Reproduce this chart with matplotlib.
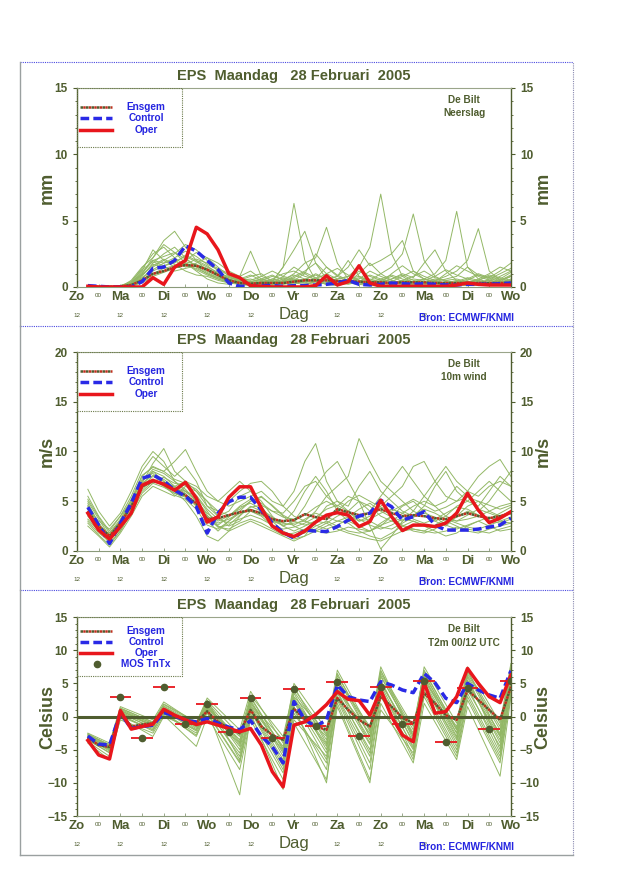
import matplotlib
matplotlib.use('Agg')
import matplotlib.pyplot as plt
import numpy as np
from matplotlib.lines import Line2D
from matplotlib.patches import Rectangle
import matplotlib.transforms as mtransforms

plt.rcParams['font.family'] = ['Liberation Sans', 'DejaVu Sans']

OLIVE = '#4f5d2f'
GREEN = '#93b866'
RED = '#e8161c'
BLUE = '#2a2ae6'
TXT_BLUE = '#2424e0'

title = 'EPS  Maandag   28 Februari  2005'
day_labels = ['Zo', 'Ma', 'Di', 'Wo', 'Do', 'Vr', 'Za', 'Zo', 'Ma', 'Di', 'Wo']

# 6-hourly output, days after Sunday 12 UTC
steps = np.arange(1, 41) * 0.25
# ensemble members for T2m only given at the 06 and 12 UTC extremes
temp_member_steps = [0.25] + [d + f for d in range(10) for f in (0.75, 1.0)]

# ---- Neerslag (mm) ----
rain_oper = [0.05, 0, 0, 0, 0, 0, 0.7, 0.2, 1.5, 2.0, 4.5, 4.0, 2.8, 1.0, 0.7, 0.1,
             0.05, 0, 0, 0, 0, 0.1, 0.85, 0.15, 0.4, 1.6, 0.3, 0.05, 0.05, 0.05, 0.05, 0.05,
             0.05, 0.05, 0.15, 0.3, 0.2, 0.15, 0.15, 0.15]
rain_control = [0.1, 0.05, 0, 0, 0, 0.4, 1.4, 1.5, 2.0, 3.1, 2.7, 2.0, 1.3, 0.3, 0.05, 0.05,
                0.1, 0.1, 0.05, 0.1, 0.1, 0.15, 0.2, 0.3, 0.5, 0.2, 0.15, 0.2, 0.3, 0.25, 0.2, 0.25,
                0.2, 0.15, 0.15, 0.2, 0.2, 0.2, 0.25, 0.3]
rain_ensgem = [0.05, 0.02, 0.02, 0.05, 0.15, 0.5, 1.0, 1.2, 1.5, 1.65, 1.6, 1.3, 0.9, 0.5, 0.3, 0.25,
               0.3, 0.3, 0.3, 0.4, 0.5, 0.5, 0.5, 0.45, 0.45, 0.4, 0.35, 0.35, 0.3, 0.35, 0.35, 0.35,
               0.3, 0.3, 0.3, 0.3, 0.3, 0.3, 0.3, 0.3]
rain_members = [
    [0, 0, 0, 0.1, 0.3, 1.2, 2.8, 2.0, 1.5, 1.8, 1.2, 0.6, 0.3, 0.2, 0.5, 0.8, 1.0, 0.4, 1.5, 6.3,
     2.0, 0.5, 0.2, 0.1, 0.3, 0.2, 0.1, 0.1, 0.2, 0.5, 0.3, 0.1, 0.1, 0.2, 0.4, 0.2, 0.1, 0.3, 0.5, 0.8],
    [0, 0, 0, 0, 0.2, 0.8, 1.8, 2.5, 3.0, 2.2, 1.5, 1.0, 0.6, 0.4, 0.2, 0.1, 0.3, 0.6, 0.4, 0.8,
     1.2, 1.8, 1.0, 0.6, 0.8, 1.5, 3.0, 7.0, 2.5, 0.8, 0.3, 0.2, 0.1, 0.3, 0.2, 0.1, 0.2, 0.4, 0.8, 1.2],
    [0, 0, 0, 0, 0.5, 1.5, 2.2, 3.5, 4.2, 3.0, 2.0, 1.2, 0.8, 0.5, 0.3, 0.2, 0.1, 0.3, 0.8, 1.5,
     1.0, 0.5, 0.2, 0.4, 0.6, 0.8, 0.5, 1.0, 1.5, 2.5, 5.5, 2.0, 0.8, 0.4, 0.2, 0.1, 0.2, 0.3, 0.2, 0.4],
    [0, 0, 0, 0, 0.1, 0.6, 1.5, 2.0, 2.5, 3.2, 2.8, 2.0, 1.2, 0.6, 0.3, 0.2, 0.4, 0.6, 1.0, 1.2,
     0.8, 0.6, 1.5, 0.9, 0.5, 0.3, 0.6, 0.4, 0.3, 0.2, 0.4, 0.6, 1.0, 2.0, 5.7, 1.5, 0.6, 0.3, 0.2, 0.3],
    [0, 0, 0, 0, 0.3, 1.0, 2.0, 1.8, 2.0, 1.5, 1.8, 2.2, 1.5, 0.8, 0.4, 0.2, 0.2, 0.4, 0.3, 0.5,
     1.0, 2.5, 1.5, 0.8, 0.4, 1.0, 1.8, 1.0, 0.5, 0.3, 0.2, 0.3, 0.5, 0.8, 1.2, 2.0, 4.4, 1.2, 0.5, 0.8],
    [0, 0, 0, 0, 0.2, 0.7, 1.2, 1.6, 1.8, 2.4, 2.0, 1.6, 1.0, 0.8, 0.6, 0.4, 0.3, 0.2, 0.5, 1.0,
     1.8, 2.2, 4.5, 1.8, 0.6, 0.3, 0.2, 0.5, 0.8, 0.4, 0.3, 0.6, 0.4, 0.3, 0.5, 0.3, 0.2, 0.6, 1.0, 1.4],
    [0, 0, 0, 0.1, 0.4, 1.4, 2.5, 3.0, 2.2, 1.6, 1.4, 1.0, 0.7, 0.5, 0.8, 1.2, 0.6, 0.4, 1.5, 2.8,
     4.2, 1.8, 0.6, 0.3, 0.2, 0.4, 0.9, 0.6, 0.4, 0.8, 1.2, 0.8, 0.5, 0.3, 0.2, 0.5, 0.9, 0.6, 0.4, 0.5],
    [0, 0, 0, 0, 0.1, 0.5, 1.0, 1.4, 1.6, 2.0, 2.6, 2.2, 1.8, 1.2, 0.8, 2.7, 0.8, 0.5, 0.3, 0.2,
     0.5, 1.0, 0.6, 0.8, 1.5, 2.8, 1.6, 2.0, 2.5, 3.5, 1.2, 0.6, 0.4, 1.0, 1.6, 1.2, 0.8, 0.5, 0.3, 0.6],
    [0, 0, 0, 0, 0.2, 0.9, 1.7, 1.5, 1.2, 1.4, 1.6, 1.3, 0.9, 0.6, 0.4, 0.3, 0.5, 0.8, 0.6, 0.4,
     0.3, 0.6, 1.0, 1.4, 0.9, 0.5, 0.4, 0.3, 0.6, 1.0, 0.7, 1.8, 2.8, 1.2, 0.5, 0.3, 0.5, 0.8, 0.6, 0.4],
    [0, 0, 0, 0, 0.0, 0.4, 0.9, 1.2, 1.5, 1.9, 1.7, 1.4, 1.0, 0.7, 0.5, 0.3, 0.2, 0.1, 0.3, 0.6,
     0.4, 0.3, 0.5, 0.8, 2.0, 0.8, 0.4, 0.2, 0.3, 0.2, 0.2, 0.3, 0.4, 0.6, 0.8, 1.5, 0.9, 0.7, 1.2, 1.8],
    [0, 0, 0, 0, 0.3, 1.1, 2.0, 2.3, 2.6, 2.1, 1.6, 1.1, 0.7, 0.4, 0.3, 0.4, 0.6, 0.9, 0.5, 0.3,
     0.2, 0.4, 0.7, 0.5, 0.3, 0.2, 0.4, 0.6, 0.9, 0.6, 0.4, 0.3, 0.2, 0.4, 0.3, 0.6, 1.0, 0.7, 0.5, 0.9],
    [0, 0, 0, 0, 0.1, 0.7, 1.3, 1.8, 2.2, 2.7, 2.3, 1.7, 1.3, 0.9, 0.5, 0.6, 0.4, 0.2, 0.4, 0.7,
     1.1, 0.7, 0.4, 0.3, 0.6, 1.2, 0.8, 0.5, 0.3, 0.5, 0.8, 1.2, 0.7, 0.5, 0.6, 0.4, 0.3, 0.2, 0.6, 1.1],
    [0, 0, 0, 0, 0.2, 1.0, 2.2, 3.2, 2.6, 1.8, 1.3, 0.9, 0.6, 0.3, 0.2, 0.2, 0.3, 0.5, 0.7, 0.5,
     0.3, 0.2, 0.3, 0.5, 0.4, 0.6, 1.2, 0.8, 0.5, 0.3, 0.2, 0.4, 0.6, 0.5, 0.3, 0.4, 0.5, 0.9, 0.7, 0.5],
    [0, 0, 0, 0, 0.4, 1.3, 1.9, 1.6, 1.9, 2.3, 1.9, 1.5, 1.1, 0.7, 0.5, 0.4, 0.6, 0.4, 0.2, 0.3,
     0.6, 0.9, 0.6, 0.4, 0.3, 0.4, 0.5, 0.3, 0.2, 0.4, 0.6, 0.5, 0.8, 1.3, 0.9, 0.6, 0.4, 0.5, 0.3, 0.5],
    [0, 0, 0, 0, 0.1, 0.3, 0.8, 1.1, 1.4, 1.7, 2.1, 1.8, 1.4, 1.0, 0.6, 0.5, 0.8, 1.2, 0.8, 0.6,
     0.5, 0.4, 0.3, 0.6, 0.8, 0.5, 0.3, 0.4, 0.6, 0.9, 0.5, 0.3, 0.3, 0.2, 0.4, 0.7, 0.5, 0.3, 0.4, 0.8],
    [0, 0, 0, 0, 0.3, 0.9, 1.6, 2.1, 1.7, 1.2, 0.9, 0.8, 0.5, 0.3, 0.6, 0.9, 0.5, 0.3, 0.6, 0.9,
     0.6, 0.4, 0.2, 0.2, 0.4, 0.7, 0.4, 0.3, 1.0, 1.6, 1.0, 0.6, 0.4, 0.3, 0.2, 0.3, 0.6, 1.0, 1.5, 1.2],
]

# ---- 10m wind (m/s) ----
wind_oper = [3.8, 2.1, 1.2, 2.45, 3.8, 6.6, 7.1, 6.7, 6.1, 6.9, 5.3, 2.9, 3.45, 5.4, 6.45, 6.45,
             4.3, 2.5, 1.8, 1.45, 2.0, 2.9, 3.6, 3.85, 3.6, 2.45, 2.95, 5.1, 3.45, 2.05, 2.6, 2.6,
             2.45, 2.8, 3.8, 5.8, 4.1, 2.85, 3.3, 3.95]
wind_control = [4.4, 2.6, 0.75, 2.8, 4.8, 7.3, 7.65, 7.05, 6.1, 5.5, 4.45, 1.8, 3.8, 4.95, 5.4, 5.4,
                4.1, 2.8, 1.85, 1.3, 2.1, 2.0, 1.95, 2.45, 3.1, 3.5, 3.8, 5.1, 4.45, 3.1, 3.45, 3.95,
                2.6, 2.1, 2.1, 2.1, 2.2, 2.4, 2.6, 3.3]
wind_ensgem = [4.0, 2.5, 1.5, 2.8, 4.5, 6.5, 7.0, 6.8, 6.2, 5.6, 4.8, 3.2, 3.3, 3.6, 3.9, 4.1,
               3.8, 3.2, 3.0, 3.1, 3.7, 3.4, 3.2, 4.2, 3.9, 3.6, 3.8, 4.2, 3.8, 3.5, 3.6, 3.5,
               3.3, 3.2, 3.5, 3.8, 3.5, 3.3, 3.5, 3.8]
wind_members = [
    [5.5, 3.5, 2.0, 3.5, 5.5, 8.0, 9.5, 8.5, 7.5, 8.5, 7.0, 4.5, 3.5, 4.0, 5.5, 6.0, 5.0, 3.5, 2.5, 3.0,
     4.5, 6.5, 8.0, 9.0, 7.0, 5.0, 4.0, 5.5, 7.0, 8.5, 7.0, 5.5, 4.5, 5.0, 6.5, 5.5, 4.0, 5.0, 6.5, 8.0],
    [3.5, 2.0, 0.8, 2.0, 4.0, 6.5, 7.5, 7.0, 6.0, 5.0, 3.5, 1.5, 1.0, 2.0, 3.5, 4.5, 4.0, 3.0, 2.0, 1.5,
     1.8, 2.5, 3.0, 2.5, 2.0, 1.8, 2.0, 2.8, 3.5, 2.5, 2.0, 1.8, 2.2, 3.0, 2.5, 2.0, 1.8, 2.2, 2.5, 2.8],
    [4.8, 2.8, 1.5, 3.0, 5.0, 7.5, 8.5, 8.0, 9.0, 10.2, 8.0, 6.0, 5.0, 4.5, 5.0, 5.5, 6.0, 5.0, 4.5, 6.0,
     9.0, 10.8, 7.0, 5.0, 4.5, 6.5, 8.0, 6.0, 5.0, 4.0, 3.5, 4.5, 6.5, 8.0, 6.0, 5.0, 4.5, 6.0, 7.5, 6.5],
    [2.5, 1.5, 0.4, 1.8, 3.5, 5.5, 6.5, 6.0, 5.5, 6.5, 6.0, 5.0, 3.5, 2.5, 3.0, 4.0, 3.5, 2.5, 1.8, 1.2,
     1.5, 2.0, 2.5, 3.0, 2.8, 2.0, 1.5, 1.2, 1.8, 2.5, 3.0, 2.5, 2.0, 1.5, 1.8, 2.5, 3.0, 2.5, 2.0, 2.2],
    [4.2, 3.0, 2.2, 3.5, 5.0, 7.0, 8.0, 7.5, 6.5, 7.0, 6.0, 4.5, 4.0, 5.0, 6.0, 6.8, 7.0, 6.0, 4.5, 3.5,
     3.0, 4.0, 5.5, 6.5, 7.5, 11.3, 9.0, 7.0, 6.0, 5.0, 4.0, 3.5, 3.0, 3.5, 4.5, 5.0, 6.0, 7.0, 6.0, 5.0],
    [6.2, 4.0, 2.5, 3.8, 6.0, 8.5, 10.0, 9.0, 7.0, 6.0, 5.5, 4.0, 2.5, 2.0, 2.5, 3.0, 2.5, 2.0, 1.5, 1.0,
     1.5, 3.0, 4.5, 5.0, 4.0, 3.0, 3.5, 4.5, 5.5, 6.5, 8.5, 9.0, 7.0, 5.5, 5.0, 6.0, 7.5, 8.5, 9.2, 7.5],
    [3.0, 1.8, 1.0, 2.5, 4.5, 6.0, 7.0, 6.8, 6.5, 6.0, 5.0, 3.0, 2.0, 3.0, 4.0, 5.0, 5.5, 4.5, 3.5, 2.5,
     2.0, 2.2, 2.8, 3.5, 4.0, 5.0, 4.5, 3.5, 3.0, 3.8, 4.5, 5.0, 4.5, 3.5, 3.0, 3.2, 3.5, 4.0, 4.5, 4.8],
    [4.5, 2.5, 1.2, 2.2, 4.2, 6.8, 8.8, 10.3, 8.0, 7.0, 6.5, 5.5, 5.0, 6.0, 7.0, 6.0, 4.5, 3.0, 2.8, 4.0,
     6.0, 7.5, 6.0, 4.0, 3.0, 2.5, 2.0, 2.5, 3.5, 4.5, 5.0, 4.0, 3.0, 2.5, 3.5, 4.5, 5.0, 4.0, 3.5, 4.0],
    [3.8, 2.2, 1.8, 3.0, 4.8, 6.2, 7.2, 6.5, 5.8, 5.5, 4.5, 3.5, 2.8, 3.2, 3.8, 4.2, 3.8, 3.2, 2.5, 2.0,
     2.5, 3.0, 2.8, 2.2, 1.8, 1.5, 1.2, 1.0, 1.5, 2.0, 2.2, 2.0, 1.8, 2.0, 2.4, 2.2, 2.0, 1.8, 2.2, 2.5],
    [5.0, 3.2, 1.5, 2.8, 4.5, 7.0, 8.2, 7.8, 7.0, 6.2, 5.0, 3.8, 3.0, 3.5, 4.5, 5.2, 4.8, 4.0, 3.8, 5.0,
     6.5, 7.0, 5.5, 4.5, 5.5, 5.0, 2.5, 0.2, 1.5, 3.0, 4.0, 5.5, 7.0, 8.5, 7.0, 6.0, 5.5, 6.5, 7.0, 6.5],
    [4.0, 2.4, 1.2, 2.6, 4.4, 6.8, 7.6, 7.2, 6.4, 5.8, 4.6, 3.0, 2.6, 3.4, 4.4, 4.8, 4.2, 3.4, 2.8, 2.6,
     3.2, 3.8, 3.4, 3.0, 3.4, 4.2, 4.8, 4.0, 3.4, 3.0, 3.6, 4.2, 3.8, 3.2, 3.0, 3.6, 4.2, 3.8, 3.4, 4.0],
    [3.2, 2.0, 1.4, 2.8, 4.6, 6.4, 7.0, 7.4, 6.8, 6.6, 5.6, 4.2, 3.2, 2.8, 3.2, 3.6, 3.2, 2.6, 2.2, 2.4,
     2.8, 3.4, 4.2, 4.6, 4.0, 3.2, 2.6, 2.2, 2.6, 3.2, 3.0, 2.6, 2.4, 2.8, 3.4, 4.0, 3.6, 3.0, 2.8, 3.2],
    [4.6, 2.8, 1.0, 2.2, 4.0, 6.6, 8.0, 7.0, 6.2, 6.0, 5.2, 3.6, 2.4, 2.6, 3.6, 4.4, 4.6, 4.0, 3.4, 3.2,
     3.6, 4.4, 5.0, 4.4, 3.6, 3.0, 3.2, 3.8, 4.2, 3.8, 3.2, 2.8, 3.2, 3.8, 4.4, 4.2, 3.6, 3.2, 3.8, 4.4],
    [3.6, 2.6, 1.6, 3.0, 5.0, 7.2, 7.8, 6.6, 5.6, 5.2, 4.2, 2.6, 2.2, 3.0, 3.8, 4.0, 3.6, 3.0, 2.6, 2.8,
     3.0, 2.6, 2.2, 2.6, 3.2, 3.6, 3.0, 2.4, 2.2, 2.8, 3.4, 3.8, 3.4, 2.6, 2.2, 2.6, 3.0, 3.4, 3.0, 2.8],
    [5.2, 3.4, 1.8, 3.2, 5.2, 7.6, 8.4, 8.0, 7.2, 6.8, 6.2, 5.0, 4.0, 3.6, 4.2, 5.0, 5.4, 4.6, 3.6, 3.0,
     2.6, 3.0, 3.6, 4.0, 5.0, 5.6, 5.0, 4.4, 4.0, 4.6, 5.2, 4.6, 4.0, 4.4, 5.0, 5.4, 5.0, 4.6, 4.2, 4.6],
    [2.8, 1.6, 0.6, 2.0, 3.8, 5.8, 6.8, 6.4, 5.8, 5.4, 4.8, 3.4, 2.4, 2.2, 2.8, 3.2, 2.8, 2.2, 1.6, 1.8,
     2.2, 2.0, 1.8, 2.0, 2.4, 2.2, 2.0, 2.6, 3.0, 2.6, 2.2, 2.0, 2.6, 3.2, 2.8, 2.4, 2.2, 2.6, 3.0, 3.4],
]

# ---- T2m (Celsius) ----
temp_oper = [-3.6, -5.8, -6.4, 0.9, -1.9, -1.5, -1.15, 1.1, 0.2, -0.5, -1.2, -0.8, -1.3, -1.8, -2.3, -1.8,
             -4.3, -8.3, -10.6, -1.3, -0.8, 0.3, 1.8, 3.75, 2.6, 2.4, 0.2, 4.0, 0.0, -2.8, -3.8, 5.15,
             0.5, 0.75, 3.0, 7.25, 5.0, 3.0, 2.1, 6.25]
temp_control = [-2.95, -4.15, -4.3, 0.5, -1.8, -1.5, -1.3, 0.6, 0.1, -0.6, -0.8, -0.3, -1.0, -1.6, -2.0, -0.6,
                -2.95, -4.55, -7.0, 2.25, -0.5, -1.5, -0.5, 4.75, 3.0, 2.5, 2.25, 5.25, 4.75, 4.0, 3.6, 6.5,
                5.1, 2.75, 2.1, 5.0, 4.0, 3.25, 2.75, 6.9]
temp_ensgem = [-3.2, -4.3, -4.6, 0.6, -1.5, -1.2, -1.0, 0.8, 0.0, -0.6, -0.9, 0.8, -0.8, -1.8, -2.5, 1.0,
               -1.5, -2.8, -3.5, 1.2, -0.5, -1.5, -2.0, 2.8, 1.0, -0.5, -1.5, 3.0, 1.5, -0.2, -1.0, 3.5,
               2.0, 0.2, -0.5, 4.0, 2.5, 1.0, -0.5, 4.5]
temp_members = [
    [-2.5, -4.0, 1.5, -0.5, 2.2, -1.0, 2.8, -2.0, 3.8, -4.0, 5.0, -2.0, 7.0, -2.0, 7.5, -3.0, 7.5, -1.0, 7.5, -1.0, 8.0],
    [-3.5, -5.5, 0.0, -2.0, 0.5, -2.5, 1.0, -11.8, 0.5, -11.0, -1.0, -9.5, 1.5, -10.0, 2.0, -7.0, 2.0, -6.5, 1.5, -9.0, 3.0],
    [-3.0, -4.5, 0.8, -1.0, 1.5, -1.5, 2.0, -5.0, 2.5, -6.0, 3.5, -5.0, 5.0, -4.0, 5.5, -4.0, 6.0, -3.0, 5.5, -4.0, 6.5],
    [-3.8, -6.0, -0.5, -2.5, 0.2, -4.5, 0.0, -8.0, -0.5, -9.5, 0.5, -7.0, 3.0, -6.0, 4.5, -6.0, 4.0, -5.0, 3.5, -6.0, 4.5],
    [-2.8, -4.2, 1.0, -1.5, 1.0, -2.0, 1.5, -3.5, 1.8, -4.5, 2.0, -3.0, 4.0, -2.5, 6.5, -2.0, 7.0, -2.0, 7.0, -3.0, 7.0],
    [-3.2, -5.0, 0.5, -1.2, 0.8, -1.2, 2.5, -6.5, 1.0, -7.5, 1.5, -10.0, 2.5, -8.0, 3.0, -5.0, 5.0, -4.0, 6.0, -5.0, 5.5],
    [-3.0, -4.8, 1.2, -0.8, 1.8, -1.0, 1.8, -4.0, 3.0, -5.0, 4.5, -4.0, 6.5, -3.0, 7.0, -3.5, 6.5, -2.5, 6.5, -2.0, 7.5],
    [-4.0, -6.5, -0.2, -3.0, 0.0, -2.0, 0.5, -7.0, 0.0, -8.5, -0.5, -6.0, 2.0, -9.5, 1.0, -5.5, 3.0, -6.0, 2.5, -7.0, 3.5],
    [-2.6, -4.4, 0.6, -1.8, 1.2, -1.8, 1.2, -3.0, 2.0, -3.5, 3.0, -2.5, 5.5, -1.5, 6.0, -2.5, 5.5, -1.5, 5.0, -2.5, 6.0],
    [-3.3, -5.2, 0.3, -2.2, 0.6, -3.0, 0.8, -5.5, 1.5, -6.5, 2.5, -5.5, 3.5, -5.0, 4.0, -4.5, 4.5, -3.5, 4.0, -4.5, 5.0],
    [-3.1, -4.6, 0.9, -1.3, 1.3, -1.4, 1.6, -4.5, 2.2, -5.5, 2.8, -4.2, 4.5, -3.5, 5.0, -3.0, 5.5, -2.5, 5.0, -3.5, 5.8],
    [-3.4, -5.0, 0.4, -1.6, 0.9, -2.2, 1.2, -6.0, 1.2, -7.0, 2.2, -6.5, 3.8, -5.5, 4.8, -4.8, 4.8, -4.5, 4.5, -5.5, 5.2],
    [-2.9, -4.4, 1.1, -1.1, 1.6, -1.2, 2.2, -3.8, 2.8, -4.8, 3.8, -3.5, 5.8, -3.0, 6.2, -2.8, 6.2, -2.0, 6.2, -2.8, 6.8],
    [-3.6, -5.4, 0.2, -2.0, 0.4, -2.8, 0.6, -6.8, 0.8, -8.0, 1.0, -8.0, 2.8, -7.0, 3.5, -6.5, 3.5, -5.5, 3.0, -6.5, 4.0],
    [-3.2, -4.9, 0.7, -1.4, 1.1, -1.6, 1.4, -4.2, 1.6, -5.2, 2.6, -4.5, 4.2, -4.2, 5.2, -3.8, 5.2, -3.2, 4.8, -3.0, 6.2],
    [-2.7, -4.3, 1.3, -0.9, 1.9, -0.8, 2.4, -2.8, 3.2, -3.0, 4.2, -2.8, 6.2, -2.2, 6.8, -1.5, 6.8, -1.8, 6.8, -1.5, 7.2],
]

# MOS Tn/Tx every 12 h from Ma 12 UTC
mos_steps = np.arange(2, 21) * 0.5
mos_temp = [3.0, -3.2, 4.4, -1.2, 1.9, -2.3, 2.85, -3.3, 4.1, -1.5, 5.25, -3.0, 4.5, -1.2, 5.4, -3.8, 4.3,
            -1.85, 5.35]


def draw_ensgem(ax, x, y):
    ax.plot(x, y, color=OLIVE, lw=1.8, ls=(0, (1, 1.2)), zorder=4)
    ax.plot(x, y, color='#c0301e', lw=1.8, ls=(1.1, (1, 1.2)), zorder=4)


def setup_axes(fig, bottom, ylim, yticks, ylabel, info):
    ax = fig.add_axes([0.1203, bottom, 0.678, 0.2261])
    ax.set_xlim(0, 10)
    ax.set_ylim(*ylim)
    ax.set_yticks(yticks)
    ax.set_yticks(np.arange(ylim[0], ylim[1] + 0.1, 1), minor=True)
    ax.tick_params(axis='y', which='both', left=True, right=True, labelright=True,
                   colors=OLIVE, labelsize=8.5, direction='out')
    ax.tick_params(axis='y', which='major', length=3, width=0.8)
    ax.tick_params(axis='y', which='minor', length=1.5, width=0.6)
    for lab in ax.get_yticklabels():
        lab.set_fontweight('bold')

    ax.set_xticks(range(11))
    ax.set_xticklabels(day_labels, fontsize=9.5, fontweight='bold', color=OLIVE)
    ax.set_xticks(np.arange(0.5, 10, 1.0), minor=True)
    ax.set_xticklabels(['00'] * 10, minor=True, fontsize=4.5, color=OLIVE)
    ax.tick_params(axis='x', which='both', direction='in', length=2, width=0.6,
                   color='#8a9a7a', pad=3)
    ax.tick_params(axis='x', which='minor', pad=4)

    for side in ['left', 'right']:
        ax.spines[side].set_color(OLIVE)
        ax.spines[side].set_linewidth(1.0)
    ax.spines['top'].set_color('#9aa58a')
    ax.spines['top'].set_linestyle((0, (2, 1)))
    ax.spines['top'].set_linewidth(0.8)
    ax.spines['bottom'].set_color('#8a9a7a')
    ax.spines['bottom'].set_linewidth(0.8)

    ax.set_title(title, fontsize=10.5, fontweight='bold', color=OLIVE, pad=6)
    ax.text(-0.068, 0.5, ylabel, transform=ax.transAxes, rotation=90, ha='center', va='center',
            fontsize=13, fontweight='bold', color=OLIVE)
    ax.text(1.074, 0.5, ylabel, transform=ax.transAxes, rotation=90, ha='center', va='center',
            fontsize=13, fontweight='bold', color=OLIVE)

    # second row of the time axis: 12 UTC marks and the source line
    trans = mtransforms.blended_transform_factory(ax.transData, ax.transAxes)
    for d in range(9):
        if d != 5:
            ax.text(d, -0.145, '12', transform=trans, ha='center', va='center', fontsize=4.5, color=OLIVE)
    ax.text(0.5, -0.14, 'Dag', transform=ax.transAxes, ha='center', va='center', fontsize=12, color=OLIVE)
    ax.text(0.897, -0.158, 'Bron: ECMWF/KNMI', transform=ax.transAxes, ha='center', va='center',
            fontsize=7.2, fontweight='bold', color=TXT_BLUE)

    ax.text(0.892, 0.938, 'De Bilt', transform=ax.transAxes, ha='center', va='center',
            fontsize=7.2, fontweight='bold', color=OLIVE)
    ax.text(0.892, 0.872, info, transform=ax.transAxes, ha='center', va='center',
            fontsize=7.2, fontweight='bold', color=OLIVE)
    return ax


def draw_legend(ax, with_mos=False):
    h = 59 / 199
    ax.add_patch(Rectangle((0, 1 - h), 0.242, h, transform=ax.transAxes, fill=False,
                           ec='#6b7a4a', ls=(0, (1, 1)), lw=0.8, zorder=6))
    if with_mos:
        ys = [0.931, 0.874, 0.821, 0.764]
    else:
        ys = [0.906, 0.851, 0.789]
    x0, x1 = 0.008, 0.081
    ax.add_line(Line2D([x0, x1], [ys[0]] * 2, transform=ax.transAxes, color=OLIVE, lw=1.8,
                       ls=(0, (1, 1.2)), zorder=7))
    ax.add_line(Line2D([x0, x1], [ys[0]] * 2, transform=ax.transAxes, color='#c0301e', lw=1.8,
                       ls=(1.1, (1, 1.2)), zorder=7))
    ax.add_line(Line2D([x0, x1], [ys[1]] * 2, transform=ax.transAxes, color=BLUE, lw=2.5,
                       dashes=(2.5, 1.2), zorder=7))
    ax.add_line(Line2D([x0, x1], [ys[2]] * 2, transform=ax.transAxes, color=RED, lw=2.5, zorder=7))
    names = ['Ensgem', 'Control', 'Oper']
    if with_mos:
        ax.add_line(Line2D([0.046], [ys[3]], transform=ax.transAxes, marker='o', ms=4.5,
                           color=OLIVE, ls='none', zorder=7))
        names.append('MOS TnTx')
    for name, y in zip(names, ys):
        ax.text(0.159, y, name, transform=ax.transAxes, ha='center', va='center',
                fontsize=7.2, fontweight='bold', color=TXT_BLUE, zorder=7)


def draw_main(ax, ensgem, control, oper):
    draw_ensgem(ax, steps, ensgem)
    ax.plot(steps, control, color=BLUE, lw=2.5, dashes=(2.5, 1.2), zorder=5)
    ax.plot(steps, oper, color=RED, lw=2.5, zorder=6)


fig = plt.figure(figsize=(6.4, 8.8), dpi=100)
fig.patch.set_facecolor('white')

# panel frames
for top, bot in [(62, 326), (326, 590), (590, 855)]:
    y0 = 1 - bot / 880
    y1 = 1 - top / 880
    fig.add_artist(Line2D([20 / 640, 573 / 640], [y1, y1], color='#4a4ae0', lw=0.8, ls=(0, (1, 1))))
    fig.add_artist(Line2D([20 / 640, 20 / 640], [y0, y1], color='#9aa0a0', lw=1.0))
    fig.add_artist(Line2D([573 / 640, 573 / 640], [y0, y1], color='#8a8ab0', lw=0.8, ls=(0, (1, 1))))
fig.add_artist(Line2D([20 / 640, 573 / 640], [1 - 855 / 880] * 2, color='#9aa0a0', lw=1.0))

# Neerslag
ax1 = setup_axes(fig, 0.6739, (0, 15), [0, 5, 10, 15], 'mm', 'Neerslag')
for m in rain_members:
    ax1.plot(steps, m, color=GREEN, lw=0.7, zorder=2)
draw_main(ax1, rain_ensgem, rain_control, rain_oper)
draw_legend(ax1)

# 10m wind
ax2 = setup_axes(fig, 0.3739, (0, 20), [0, 5, 10, 15, 20], 'm/s', '10m wind')
for m in wind_members:
    ax2.plot(steps, m, color=GREEN, lw=0.7, zorder=2)
draw_main(ax2, wind_ensgem, wind_control, wind_oper)
draw_legend(ax2)

# T2m
ax3 = setup_axes(fig, 0.0727, (-15, 15), [-15, -10, -5, 0, 5, 10, 15], 'Celsius', 'T2m 00/12 UTC')
ax3.axhline(0, color=OLIVE, lw=2.2, zorder=3)
for m in temp_members:
    ax3.plot(temp_member_steps, m, color=GREEN, lw=0.7, zorder=2)
draw_main(ax3, temp_ensgem, temp_control, temp_oper)
ax3.errorbar(mos_steps, mos_temp, xerr=0.25, fmt='o', ms=4.5, color=OLIVE, ecolor=RED,
             elinewidth=1.3, capsize=0, zorder=7)
draw_legend(ax3, with_mos=True)

fig.savefig('out.png', dpi=100, facecolor='white')
